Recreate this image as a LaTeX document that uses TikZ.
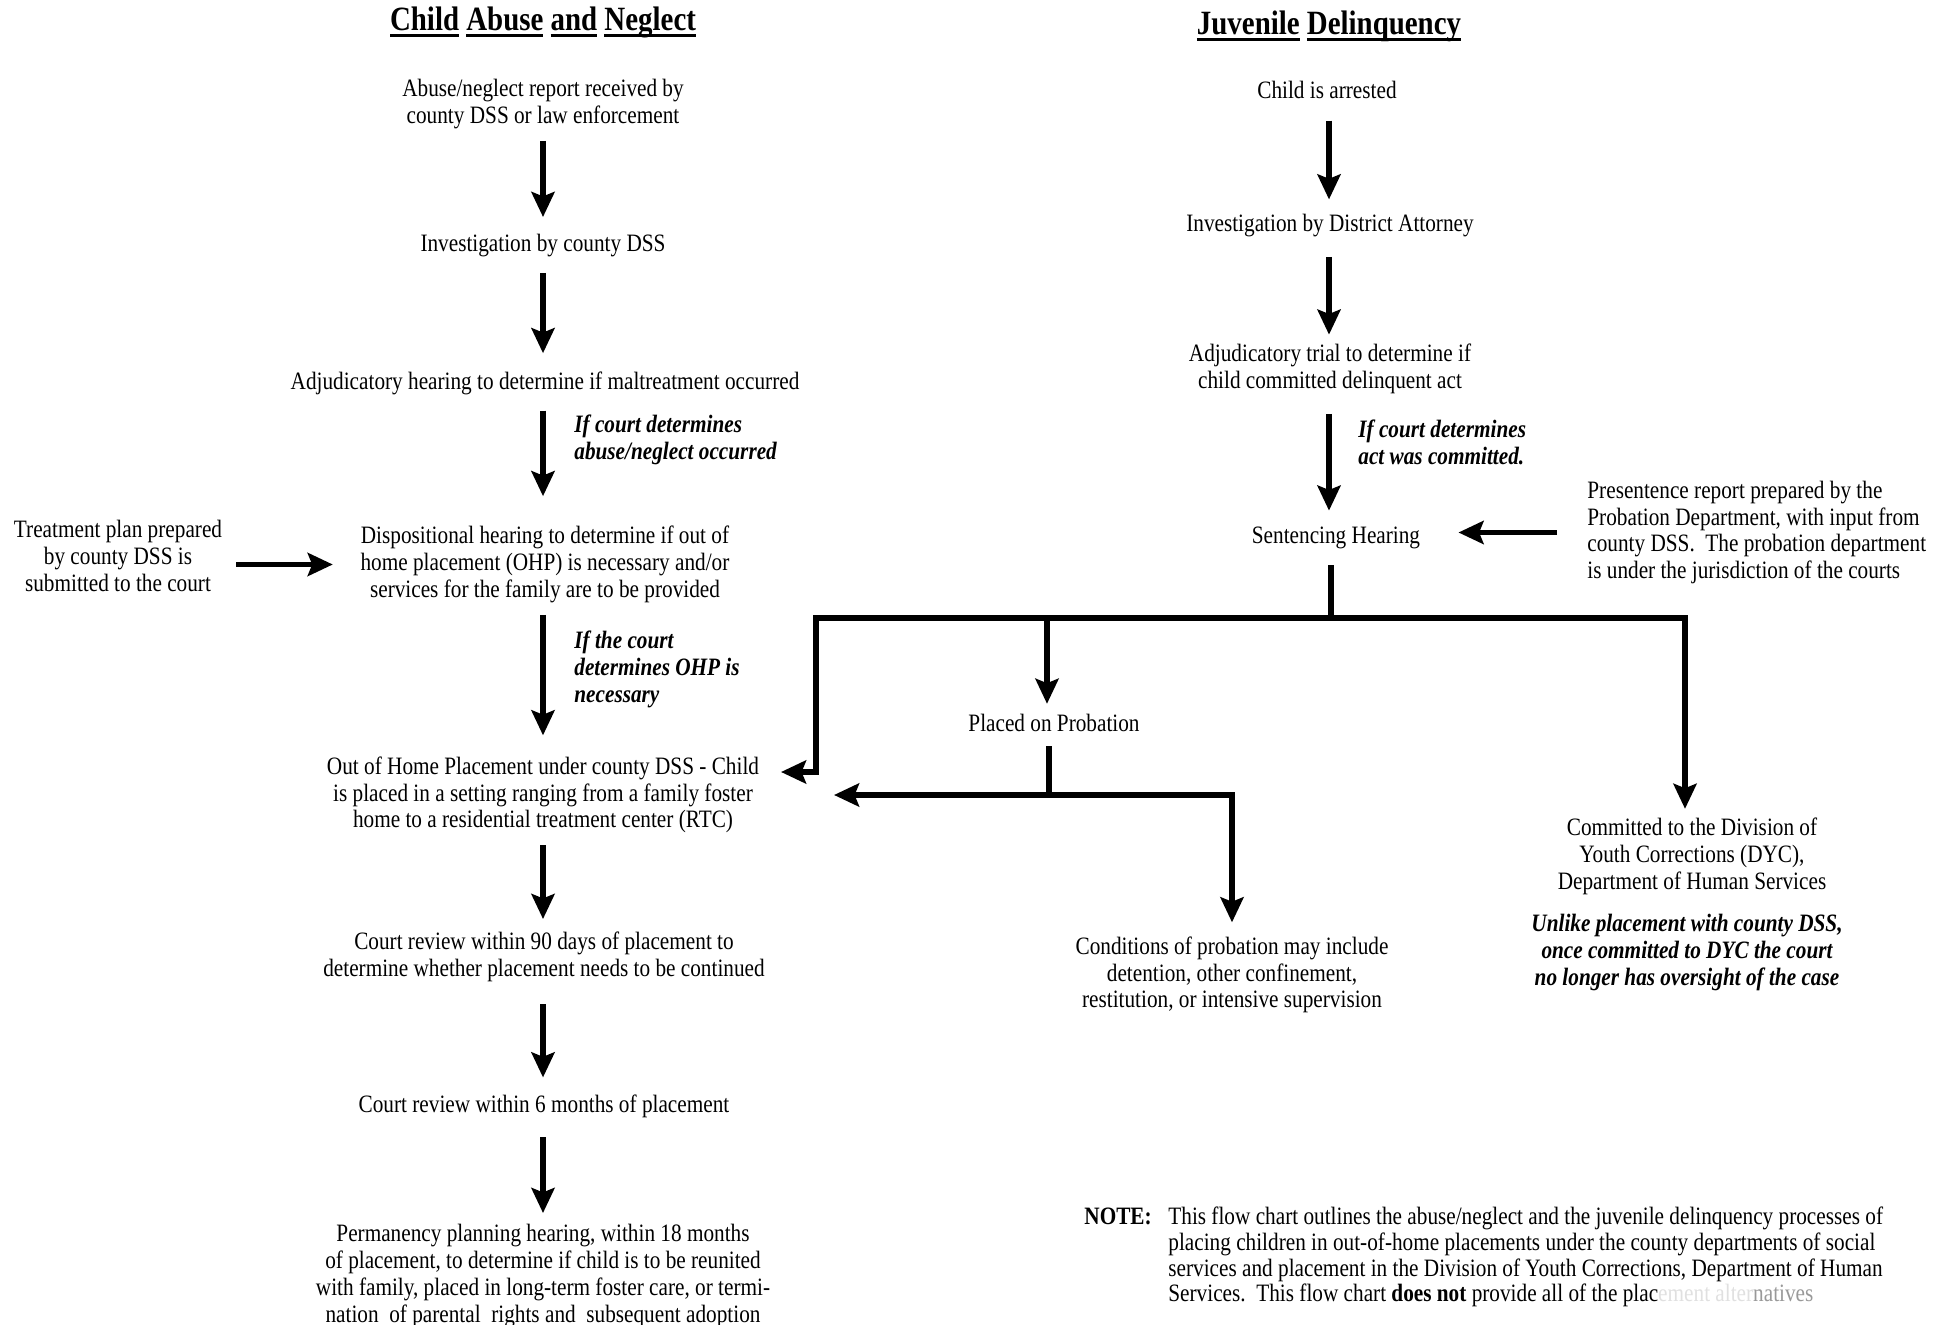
\documentclass[tikz,border=0pt]{standalone}
\usepackage{fontspec}
\setmainfont[FakeStretch=0.85]{Liberation Serif}
\usetikzlibrary{arrows.meta,calc}
\newcommand{\wul}[1]{{\setbox0\hbox{#1}\rlap{\rule[-3pt]{\wd0}{1.3pt}}\box0}}
\begin{document}
\begin{tikzpicture}[x=0.5pt,y=-0.5pt,
  txt/.style={inner sep=0pt, align=center, font=\fontsize{12.5}{13.4}\selectfont},
  lbl/.style={inner sep=0pt, align=left, anchor=west, font=\fontsize{12.5}{13.4}\selectfont\bfseries\itshape},
  ttl/.style={inner sep=0pt, font=\fontsize{17}{20}\selectfont\bfseries},
  arr/.style={line width=2.9pt, -{Stealth[length=12.5pt,width=11.5pt,inset=2.2pt]}},
  ln/.style={line width=2.9pt},
]
\useasboundingbox (0,0) rectangle (1947,1325);
% titles
\node[ttl] (TA) at (543,22.5) {\wul{Child} \wul{Abuse} \wul{and} \wul{Neglect}};
\node[ttl] (TB) at (1329,26.5) {\wul{Juvenile} \wul{Delinquency}};
% left column
\node[txt] (A1) at (543,104) {Abuse/neglect report received by\\county DSS or law enforcement};
\node[txt] (A2) at (543,246) {Investigation by county DSS};
\node[txt] (A3) at (545,383.5) {Adjudicatory hearing to determine if maltreatment occurred};
\node[txt] (A4) at (545,564.5) {Dispositional hearing to determine if out of\\home placement (OHP) is necessary and/or\\services for the family are to be provided};
\node[txt] (T) at (118,556) {Treatment plan prepared\\by county DSS is\\submitted to the court};
\node[txt] (A5) at (543,795) {Out of Home Placement under county DSS - Child\\is placed in a setting ranging from a family foster\\home to a residential treatment center (RTC)};
\node[txt] (A6) at (544,956.5) {Court review within 90 days of placement to\\determine whether placement needs to be continued};
\node[txt] (A7) at (544,1106.5) {Court review within 6 months of placement};
\node[txt] (A8) at (543,1276) {Permanency planning hearing, within 18 months\\of placement, to determine if child is to be reunited\\with family, placed in long-term foster care, or termi-\\nation\ \ of parental\ \ rights and\ \ subsequent adoption};
\node[lbl] (L1) at (574,439.5) {If court determines\\abuse/neglect occurred};
\node[lbl] (L2) at (574,669.5) {If the court\\determines OHP is\\necessary};
% right column
\node[txt] (B1) at (1327,90) {Child is arrested};
\node[txt] (B2) at (1330,226) {Investigation by District Attorney};
\node[txt] (B3) at (1330,368.5) {Adjudicatory trial to determine if\\child committed delinquent act};
\node[lbl] (L3) at (1358,442) {If court determines\\act was committed.};
\node[txt] (B4) at (1336,538) {Sentencing Hearing};
\node[txt, align=left, anchor=west] (P) at (1587,532.5) {Presentence report prepared by the\\Probation Department, with input from\\county DSS.\ \ The probation department\\is under the jurisdiction of the courts};
\node[txt] (B5) at (1054,723) {Placed on Probation};
\node[txt] (B6) at (1232,975) {Conditions of probation may include\\detention, other confinement,\\restitution, or intensive supervision};
\node[txt] (B7) at (1692,856.5) {Committed to the Division of\\Youth Corrections (DYC),\\Department of Human Services};
\node[txt, font=\fontsize{12.5}{13.4}\selectfont\bfseries\itshape] (B7n) at (1687,952.5) {Unlike placement with county DSS,\\once committed to DYC the court\\no longer has oversight of the case};
% note
\node[inner sep=0pt, anchor=north west, font=\fontsize{12.5}{12.9}\selectfont] (N) at (1084,1206) {\begin{tabular}{@{}p{42pt}@{}l@{}}
\textbf{NOTE:} & This flow chart outlines the abuse/neglect and the juvenile delinquency processes of\\
 & placing children in out-of-home placements under the county departments of social\\
 & services and placement in the Division of Youth Corrections, Department of Human\\
 & Services.\ \ This flow chart \textbf{does not} provide all of the plac\textcolor{black!12}{ement alter}\textcolor{black!40}{natives}
\end{tabular}};
% vertical arrows left
\draw[arr, shorten <=5.8pt, shorten >=8.6pt] (A1.south -| 543,0) -- (A2.north -| 543,0);
\draw[arr, shorten <=7.6pt, shorten >=9.2pt] (A2.south -| 543,0) -- (A3.north -| 543,0);
\draw[arr, shorten <=7.6pt, shorten >=14.8pt] (A3.south -| 543,0) -- (A4.north -| 543,0);
\draw[arr, shorten <=5.8pt, shorten >=10.5pt] (A4.south -| 543,0) -- (A5.north -| 543,0);
\draw[arr, shorten <=5.8pt, shorten >=6.1pt] (A5.south -| 543,0) -- (A6.north -| 543,0);
\draw[arr, shorten <=11.3pt, shorten >=8.6pt] (A6.south -| 543,0) -- (A7.north -| 543,0);
\draw[arr, shorten <=9.5pt, shorten >=5.5pt] (A7.south -| 543,0) -- (A8.north -| 543,0);
\draw[arr, shorten <=7pt, shorten >=13.7pt] (T.east |- A4.west) -- (A4.west);
% vertical arrows right
\draw[arr, shorten <=10.7pt, shorten >=7.4pt] (B1.south -| 1329,0) -- (B2.north -| 1329,0);
\draw[arr, shorten <=9.5pt, shorten >=4.3pt] (B2.south -| 1329,0) -- (B3.north -| 1329,0);
\draw[arr, shorten <=10.1pt, shorten >=8pt] (B3.south -| 1329,0) -- (B4.north -| 1329,0);
\draw[arr, shorten <=15pt, shorten >=19pt] (P.west) -- (P.west -| B4.east);
% branching
\coordinate (bar) at (1331,618);
\coordinate (jL) at (816,618);
\coordinate (jR) at (1685,618);
\coordinate (jM) at (1047,618);
\coordinate (inA5) at (781,772);
\coordinate (pj) at (1049,795);
\coordinate (inA5b) at (834,795);
\draw[ln, shorten <=8pt] (bar |- B4.south) -- (bar);
\draw[arr] (bar) -- (jL) |- (inA5);
\draw[arr, shorten >=4.5pt] (bar) -- (jR) -- (jR |- B7.north);
\draw[arr, shorten >=5pt] (jM) -- (jM |- B5.north);
\draw[ln, shorten <=7pt] (pj |- B5.south) -- (pj);
\draw[arr] (pj) -- (inA5b);
\draw[arr, shorten >=7pt] (pj) -| (B6.north);
\end{tikzpicture}
\end{document}
